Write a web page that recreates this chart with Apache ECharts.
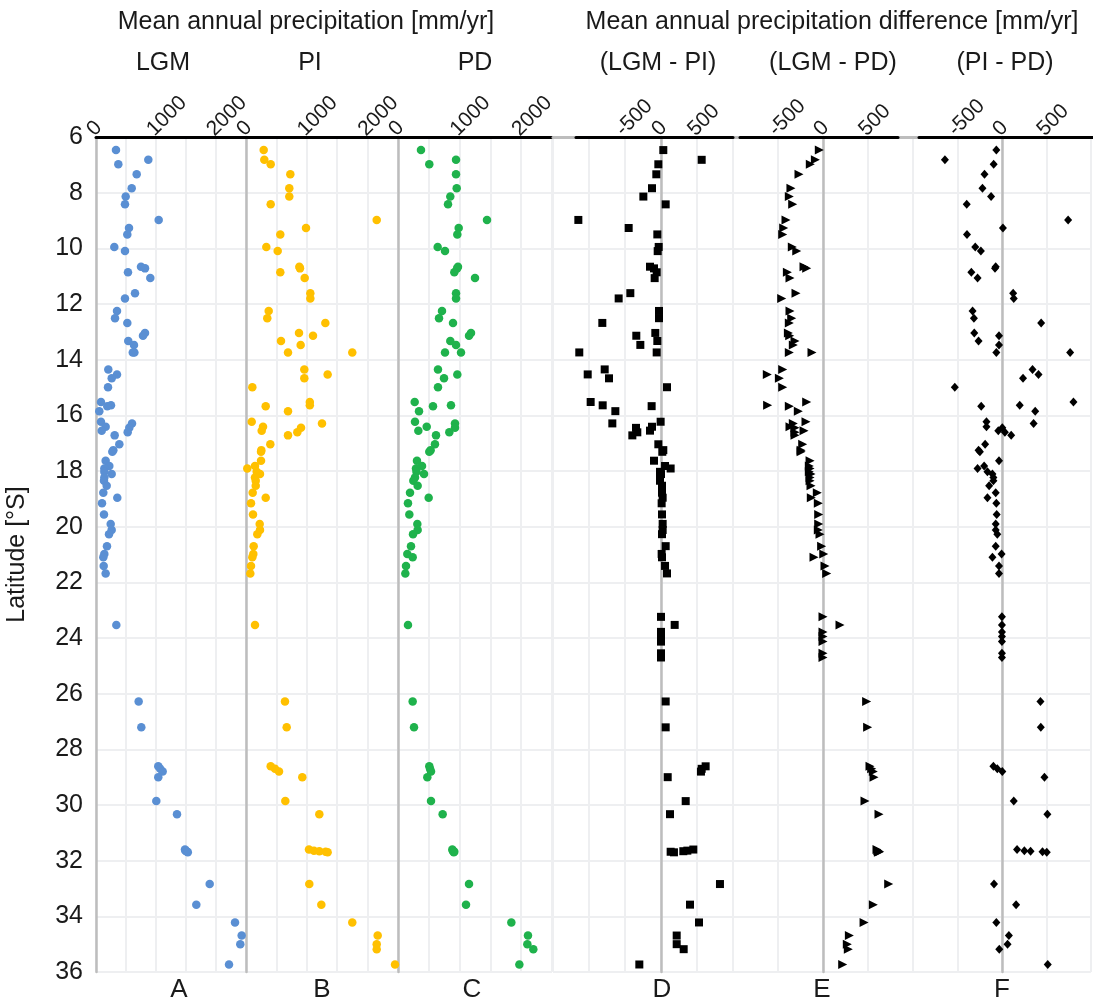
<!DOCTYPE html>
<html>
<head>
<meta charset="utf-8">
<title>Mean annual precipitation by latitude</title>
<script src="https://cdn.jsdelivr.net/npm/echarts@6/dist/echarts.min.js"></script>
<style>
  html, body { margin: 0; padding: 0; background: #ffffff; }
  #chart { width: 1093px; height: 1007px; }
</style>
</head>
<body>
<div id="chart"></div>
<script>
// Site latitudes (°S) for the absolute precipitation panels
const latSites = [6.47, 6.82, 6.98, 7.34, 7.84, 8.14, 8.42, 8.98, 9.27, 9.50,
  9.95, 10.10, 10.66, 10.72, 10.86, 11.07, 11.61, 11.80, 12.25, 12.51,
  12.68, 13.04, 13.14, 13.33, 13.47, 13.74, 13.74, 14.35, 14.53, 14.67,
  14.99, 15.52, 15.64, 15.67, 15.85, 16.23, 16.29, 16.41, 16.45, 16.55,
  16.61, 16.72, 17.04, 17.25, 17.31, 17.63, 17.82, 17.91, 18.03, 18.11,
  18.23, 18.35, 18.53, 18.78, 18.96, 19.16, 19.56, 19.90, 20.12, 20.27,
  20.70, 20.98, 21.10, 21.41, 21.68, 23.53, 26.28, 27.21, 28.61, 28.70,
  28.80, 29.00, 29.86, 30.33, 31.60, 31.64, 31.66, 31.68, 31.70, 32.84,
  33.58, 34.22, 34.69, 35.00, 35.18, 35.73];

// A: Last Glacial Maximum [mm/yr]
const precipLGM = [333, 872, 372, 678, 595, 495, 483, 1045, 550, 522,
  305, 483, 750, 817, 533, 905, 650, 483, 350, 317,
  522, 817, 783, 538, 633, 640, 613, 205, 350, 262,
  200, 83, 250, 188, 55, 83, 600, 161, 555, 95,
  528, 311, 389, 289, 272, 161, 222, 139, 139, 261,
  139, 133, 178, 122, 355, 100, 133, 245, 261, 217,
  183, 139, 122, 128, 161, 339, 711, 755, 1038, 1070,
  1111, 1038, 1005, 1350, 1483, 1490, 1510, 1520, 1530, 1895,
  1672, 2317, 2428, 2405, 2522, 2217];

// B: pre-industrial [mm/yr]
const precipPI = [291, 301, 406, 729, 712, 712, 406, 2150, 987, 564,
  334, 521, 877, 888, 564, 965, 1058, 1058, 373, 350,
  1305, 872, 1102, 576, 899, 691, 1748, 959, 1343, 959,
  104, 1050, 1050, 324, 691, 94, 1250, 280, 905, 258,
  844, 691, 400, 252, 247, 247, 148, 21, 176, 230,
  148, 160, 160, 110, 324, 82, 115, 225, 230, 186,
  126, 120, 104, 82, 71, 148, 641, 669, 406, 477,
  543, 926, 647, 1206, 1036, 1118, 1206, 1310, 1343, 1041,
  1239, 1748, 2166, 2150, 2150, 2451];

// C: present day [mm/yr]
const precipPD = [373, 942, 508, 942, 953, 849, 812, 1445, 985, 963,
  644, 763, 974, 960, 914, 1250, 942, 942, 714, 666,
  893, 1185, 1153, 849, 942, 763, 1023, 649, 963, 747,
  649, 271, 860, 568, 341, 276, 925, 466, 925, 330,
  833, 617, 600, 530, 508, 308, 390, 292, 300, 422,
  276, 249, 319, 195, 498, 162, 184, 314, 319, 244,
  211, 151, 238, 130, 119, 162, 238, 260, 508, 520,
  536, 476, 536, 725, 882, 890, 900, 914, 905, 1153,
  1104, 1840, 2110, 2100, 2197, 1970];

// Site latitudes (°S) for the difference panels
const latDiff = [6.47, 6.82, 6.98, 7.34, 7.84, 8.14, 8.42, 8.98, 9.27, 9.50,
  9.95, 10.10, 10.66, 10.72, 10.86, 11.07, 11.61, 11.80, 12.25, 12.51,
  12.68, 13.04, 13.14, 13.33, 13.47, 13.74, 13.74, 14.35, 14.53, 14.67,
  14.99, 15.52, 15.64, 15.67, 15.85, 16.23, 16.29, 16.41, 16.45, 16.55,
  16.61, 16.72, 17.04, 17.25, 17.31, 17.63, 17.82, 17.91, 18.03, 18.11,
  18.23, 18.35, 18.53, 18.78, 18.96, 19.16, 19.56, 19.90, 20.12, 20.27,
  20.70, 20.98, 21.10, 21.41, 21.68,
  23.24, 23.53, 23.78, 23.95, 24.13, 24.55, 24.70,
  26.28, 27.21, 28.61, 28.70,
  28.80, 29.00, 29.86, 30.33, 31.60, 31.64, 31.66, 31.68, 31.70, 32.84,
  33.58, 34.22, 34.69, 35.00, 35.18, 35.73];

// D: LGM - PI [mm/yr]
const diffLGMPI = [32, 565, -37, -65, -125, -245, 65, -1148, -449, -51,
  -32, -46, -153, -97, -60, -88, -426, -588, -28, -28,
  -815, -79, -343, -51, -287, -60, -1135, -782, -1018, -722,
  83, -977, -810, -130, -634, -5, -676, -125, -347, -153,
  -329, -398, -37, 32, 18, -97, 56, 134, -14, 0,
  -14, -14, 14, 14, 23, 9, 14, 23, 23, 14,
  65, 9, 14, 56, 83,
  0, 190, 0, 0, 0, 0, 0,
  65, 65, 620, 565,
  555, 93, 343, 125, 449, 366, 310, 134, 180, 819,
  403, 528, 218, 218, 315, -301];

// E: LGM - PD [mm/yr]
const diffLGMPD = [-41, -85, -141, -267, -356, -374, -337, -411, -437, -448,
  -341, -292, -211, -181, -396, -367, -300, -459, -367, -348,
  -374, -385, -370, -311, -330, -122, -374, -448, -619, -485,
  -448, -181, -615, -374, -274, -189, -330, -367, -311, -211,
  -311, -311, -226, -244, -244, -144, -152, -144, -152, -133,
  -144, -144, -133, -63, -130, -52, -48, -48, -52, -33,
  -15, 8, -100, 22, 41,
  0, 189, 0, 0, 0, 0, 0,
  485, 496, 522, 541,
  559, 567, 467, 622, 600, 610, 620, 630, 615, 730,
  559, 456, 293, 270, 281, 219];

// F: PI - PD [mm/yr]
const diffPIPD = [-63, -641, -93, -196, -219, -122, -396, 744, 11, -393,
  -300, -237, -70, -78, -344, -274, 126, 133, -330, -315,
  441, -311, -33, -263, -33, -63, 767, 344, 411, 237,
  -530, 804, 200, -233, 374, -174, 356, -174, 4, -41,
  33, 104, -189, -263, -248, -33, -200, -274, -163, -107,
  -96, -96, -144, -70, -163, -63, -59, -70, -70, -52,
  -70, -4, -107, -33, -33,
  0, 0, 0, 0, 0, 0, 0,
  433, 437, -96, -52,
  4, 478, 133, 511, 170, 252, 322, 456, 504, -89,
  159, -63, 78, 63, -30, 515];

// Tick labels that are printed on each kind of x axis
const absTickLabels = [0, 1000, 2000];
const diffTickLabels = [-500, 0, 500];

// Panel captions
const panelLetters = ['A', 'B', 'C', 'D', 'E', 'F'];
const panelHeads = ['LGM', 'PI', 'PD', '(LGM - PI)', '(LGM - PD)', '(PI - PD)'];
const groupTitles = ['Mean annual precipitation [mm/yr]', 'Mean annual precipitation difference [mm/yr]'];

// ---- layout and styling ----
const FONT = "'Liberation Sans', Arial, Helvetica, sans-serif";
const TEXT = '#1a1a1a';
const GRID_LINE = '#eeeff1';
const ZERO_LINE = '#bdbdbd';
const TOP = 137, PLOT_H = 835;

const panels = [
  { left: 96,  width: 150, min: 0,     max: 2500, labels: absTickLabels,  axisColor: '#000' },
  { left: 246, width: 152, min: 0,     max: 2500, labels: absTickLabels,  axisColor: '#000' },
  { left: 398, width: 154, min: 0,     max: 2500, labels: absTickLabels,  axisColor: '#000' },
  { left: 553, width: 180, min: -1500, max: 1000, labels: diffTickLabels, axisColor: ZERO_LINE },
  { left: 733, width: 180, min: -1000, max: 1000, labels: diffTickLabels, axisColor: ZERO_LINE },
  { left: 913, width: 180, min: -1000, max: 1000, labels: diffTickLabels, axisColor: ZERO_LINE }
];
// black top rules of the difference panels
const rules = [
  { left: 576, width: 157 },
  { left: 740, width: 158 },
  { left: 919, width: 174 }
];

const grids = [], xAxes = [], yAxes = [];
panels.forEach((p, i) => {
  grids.push({ left: p.left, width: p.width, top: TOP, height: PLOT_H });
  xAxes.push({
    gridIndex: i, type: 'value', position: 'top',
    min: p.min, max: p.max, interval: 500,
    axisLine: { show: true, onZero: false, lineStyle: { color: p.axisColor, width: 3 } },
    axisTick: { show: false },
    axisLabel: {
      rotate: -45, margin: 10, padding: [0, 0, 0, -8],
      fontSize: 21, color: TEXT, fontFamily: FONT,
      showMinLabel: true, showMaxLabel: true,
      formatter: v => (p.labels.indexOf(v) >= 0 ? String(v) : '')
    },
    splitLine: { show: true, lineStyle: { color: GRID_LINE, width: 2 } }
  });
  yAxes.push({
    gridIndex: i, type: 'value', inverse: true,
    min: 6, max: 36, interval: 2,
    axisLine: { show: true, onZero: true, lineStyle: { color: ZERO_LINE, width: 2.5 } },
    axisTick: { show: false },
    axisLabel: { show: i === 0, fontSize: 25, color: TEXT, fontFamily: FONT, margin: 13 },
    splitLine: { show: true, lineStyle: { color: GRID_LINE, width: 2 } },
    name: i === 0 ? 'Latitude [°S]' : '',
    nameLocation: 'middle', nameGap: 66,
    nameTextStyle: { fontSize: 25, color: TEXT, fontFamily: FONT }
  });
});
rules.forEach((r, k) => {
  const gi = panels.length + k;
  grids.push({ left: r.left, width: r.width, top: TOP, height: PLOT_H });
  xAxes.push({
    gridIndex: gi, type: 'value', position: 'top', min: 0, max: 1, z: 5,
    axisLine: { show: true, onZero: false, lineStyle: { color: '#000', width: 3 } },
    axisTick: { show: false }, axisLabel: { show: false }, splitLine: { show: false }
  });
  yAxes.push({ gridIndex: gi, type: 'value', inverse: true, min: 6, max: 36, show: false });
});

function points(values, lats) {
  return values.map((v, i) => [v, lats[i]]);
}

const series = [
  { data: points(precipLGM, latSites), symbol: 'circle', size: 8.5, color: '#5a8fd3' },
  { data: points(precipPI, latSites),  symbol: 'circle', size: 8.5, color: '#ffc000' },
  { data: points(precipPD, latSites),  symbol: 'circle', size: 8.5, color: '#1fb24c' },
  { data: points(diffLGMPI, latDiff),  symbol: 'rect', size: 8, color: '#000' },
  { data: points(diffLGMPD, latDiff),  symbol: 'triangle', size: 9, rotate: -90, color: '#000' },
  { data: points(diffPIPD, latDiff),   symbol: 'diamond', size: [8, 9], color: '#000' }
].map((s, i) => ({
  type: 'scatter', xAxisIndex: i, yAxisIndex: i,
  data: s.data, symbol: s.symbol, symbolSize: s.size, symbolRotate: s.rotate || 0,
  itemStyle: { color: s.color, opacity: 1 },
  silent: true, animation: false, z: 3
}));

// Captions drawn as text
const headX = [163, 310, 475, 658, 833, 1005];
const letterX = [179, 322, 472, 662, 822, 1002];
const texts = [];
function addText(str, x, y, size) {
  texts.push({
    type: 'text', x: x, y: y, silent: true,
    style: { text: str, fill: TEXT, fontSize: size, fontFamily: FONT,
             textAlign: 'center', textVerticalAlign: 'middle' }
  });
}
addText(groupTitles[0], 306, 22, 25);
addText(groupTitles[1], 832, 22, 25);
panelHeads.forEach((t, i) => addText(t, headX[i], 63, 25));
panelLetters.forEach((t, i) => addText(t, letterX[i], 990, 26));

const chart = echarts.init(document.getElementById('chart'), null, { renderer: 'canvas' });
chart.setOption({
  animation: false,
  backgroundColor: '#ffffff',
  textStyle: { fontFamily: FONT },
  grid: grids,
  xAxis: xAxes,
  yAxis: yAxes,
  series: series,
  graphic: texts
});
</script>
</body>
</html>
